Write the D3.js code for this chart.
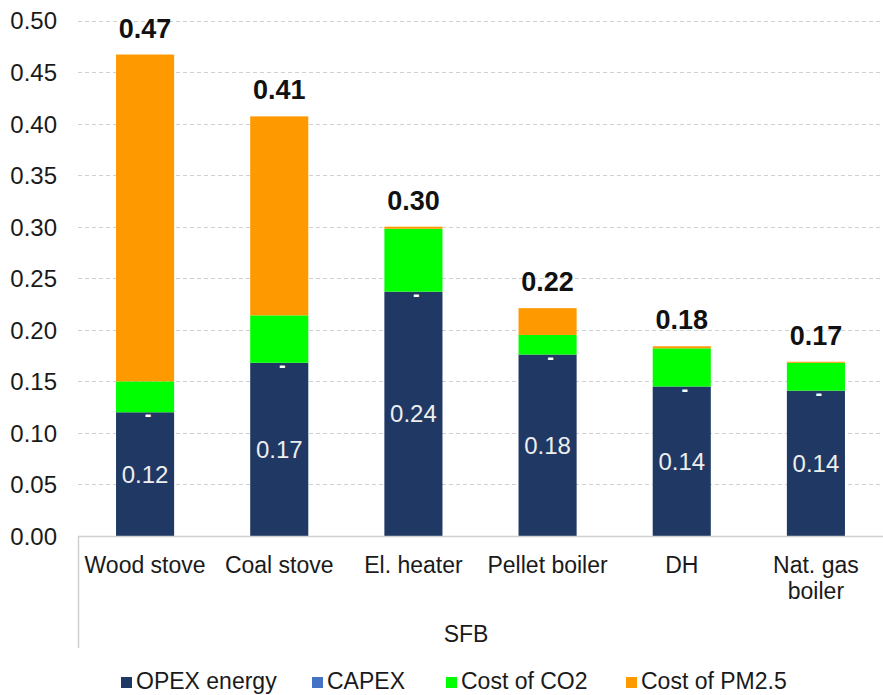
<!DOCTYPE html>
<html>
<head>
<meta charset="utf-8">
<script src="https://cdn.jsdelivr.net/npm/d3@7"></script>
<style>
  html, body { margin: 0; padding: 0; background: #fff; }
  svg { display: block; font-family: "Liberation Sans", Arial, sans-serif; }
</style>
</head>
<body>
<svg id="chart" width="883" height="695"></svg>
<script>
// Levelised heating cost by technology, single-family building (SFB)
const categories = ["Wood stove", "Coal stove", "El. heater", "Pellet boiler", "DH", "Nat. gas boiler"];
const seriesNames = ["OPEX energy", "CAPEX", "Cost of CO2", "Cost of PM2.5"];
const opexEnergy = [0.120, 0.168, 0.237, 0.176, 0.145, 0.141];
const capex      = [0, 0, 0, 0, 0, 0];
const costCO2    = [0.030, 0.046, 0.061, 0.019, 0.037, 0.027];
const costPM25   = [0.317, 0.193, 0.002, 0.026, 0.002, 0.001];
const totalLabels = ["0.47", "0.41", "0.30", "0.22", "0.18", "0.17"];
const yTicks = [0, 0.05, 0.10, 0.15, 0.20, 0.25, 0.30, 0.35, 0.40, 0.45, 0.50];
const groupLabel = "SFB";

const colors = ["#203864", "#4472C4", "#00FF00", "#FF9900"];

const svg = d3.select("#chart");
const plot = { left: 78, right: 883, top: 20.5, bottom: 536 };

const rows = categories.map((c, i) => ({
  category: c,
  "OPEX energy": opexEnergy[i],
  "CAPEX": capex[i],
  "Cost of CO2": costCO2[i],
  "Cost of PM2.5": costPM25[i],
  total: totalLabels[i]
}));

const x = d3.scaleBand()
  .domain(categories)
  .range([plot.left, plot.right])
  .paddingInner(0.567)
  .paddingOuter(0.2835);

const y = d3.scaleLinear().domain([0, 0.5]).range([plot.bottom, plot.top]);

// Horizontal gridlines
svg.append("g")
  .selectAll("line")
  .data(yTicks.filter(t => t > 0))
  .join("line")
  .attr("x1", plot.left).attr("x2", plot.right)
  .attr("y1", d => Math.round(y(d)) + 0.5).attr("y2", d => Math.round(y(d)) + 0.5)
  .attr("stroke", "#D0D0D0")
  .attr("stroke-width", 1)
  .attr("stroke-dasharray", "4,3");

// Y axis tick labels
const yAxis = d3.axisLeft(y).tickValues(yTicks).tickFormat(d3.format(".2f")).tickSize(0).tickPadding(0);
const yg = svg.append("g").attr("transform", `translate(57,0)`).call(yAxis);
yg.select(".domain").remove();
yg.selectAll("text")
  .attr("font-size", 24)
  .attr("font-family", "Liberation Sans, Arial, sans-serif")
  .attr("fill", "#1a1a1a")
  .attr("dy", "0.35em");

// Stacked bars
const stack = d3.stack().keys(seriesNames);
const stacked = stack(rows);

svg.append("g")
  .selectAll("g")
  .data(stacked)
  .join("g")
  .attr("fill", (d, i) => colors[i])
  .selectAll("rect")
  .data(d => d)
  .join("rect")
  .attr("x", d => x(d.data.category))
  .attr("width", x.bandwidth())
  .attr("y", d => y(d[1]))
  .attr("height", d => y(d[0]) - y(d[1]));

// Category axis line and group separator
svg.append("line")
  .attr("x1", plot.left).attr("x2", plot.right)
  .attr("y1", plot.bottom + 0.5).attr("y2", plot.bottom + 0.5)
  .attr("stroke", "#D0D0D0").attr("stroke-width", 1.5);
svg.append("line")
  .attr("x1", plot.left + 0.5).attr("x2", plot.left + 0.5)
  .attr("y1", plot.bottom).attr("y2", 648)
  .attr("stroke", "#D0D0D0").attr("stroke-width", 1.5);

// OPEX value labels inside the navy segment
const opexSeries = stacked[0];
svg.append("g")
  .selectAll("text")
  .data(opexSeries)
  .join("text")
  .attr("x", d => x(d.data.category) + x.bandwidth() / 2)
  .attr("y", d => y((d[0] + d[1]) / 2))
  .attr("dy", "0.35em")
  .attr("text-anchor", "middle")
  .attr("font-size", 24)
  .attr("fill", "#EEEEEE")
  .text(d => d3.format(".2f")(d[1] - d[0]));

// CAPEX labels (zero values shown as a dash)
const capexSeries = stacked[1];
svg.append("g")
  .selectAll("text")
  .data(capexSeries)
  .join("text")
  .attr("x", d => x(d.data.category) + x.bandwidth() / 2 + 3)
  .attr("y", d => y((d[0] + d[1]) / 2) + 9)
  .attr("text-anchor", "middle")
  .attr("font-size", 20)
  .attr("font-weight", "bold")
  .attr("fill", "#FFFFFF")
  .text(d => (d[1] - d[0]) === 0 ? "-" : d3.format(".2f")(d[1] - d[0]));

// Totals above each stack
const topSeries = stacked[stacked.length - 1];
svg.append("g")
  .selectAll("text")
  .data(topSeries)
  .join("text")
  .attr("x", d => x(d.data.category) + x.bandwidth() / 2)
  .attr("y", d => y(d[1]) - 17)
  .attr("text-anchor", "middle")
  .attr("font-size", 27)
  .attr("font-weight", "bold")
  .attr("fill", "#111")
  .text(d => d.data.total);

// Category labels (wrapped onto two lines where needed)
const catWrap = { "Nat. gas boiler": ["Nat. gas", "boiler"] };
const catG = svg.append("g");
categories.forEach(c => {
  const lines = catWrap[c] || [c];
  const t = catG.append("text")
    .attr("x", x(c) + x.bandwidth() / 2)
    .attr("y", 573)
    .attr("text-anchor", "middle")
    .attr("font-size", 23)
    .attr("fill", "#1a1a1a");
  lines.forEach((ln, k) => {
    t.append("tspan")
      .attr("x", x(c) + x.bandwidth() / 2)
      .attr("dy", k === 0 ? 0 : 26)
      .text(ln);
  });
});

// Group label
svg.append("text")
  .attr("x", 466)
  .attr("y", 642)
  .attr("text-anchor", "middle")
  .attr("font-size", 23)
  .attr("fill", "#1a1a1a")
  .text(groupLabel);

// Legend
const legendX = [121, 312, 446, 626];
const legend = svg.append("g");
seriesNames.forEach((name, i) => {
  legend.append("rect")
    .attr("x", legendX[i]).attr("y", 677)
    .attr("width", 11).attr("height", 11)
    .attr("fill", colors[i]);
  legend.append("text")
    .attr("x", legendX[i] + 15)
    .attr("y", 681)
    .attr("dy", "0.35em")
    .attr("font-size", 23)
    .attr("fill", "#1a1a1a")
    .text(name);
});
</script>
</body>
</html>
